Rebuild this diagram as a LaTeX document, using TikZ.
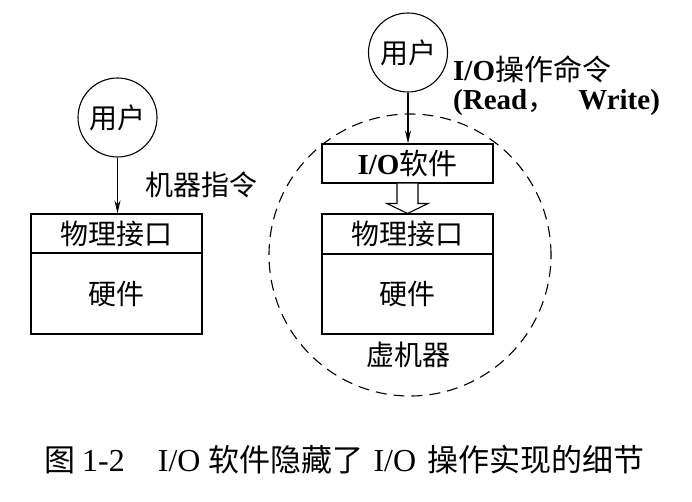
\documentclass[tikz,border=0pt]{standalone}
\usepackage{fontspec}
\setmainfont{Liberation Serif}
\newfontfamily\cjk{Noto Sans CJK SC}
\usetikzlibrary{arrows.meta,calc}
\begin{document}
\begin{tikzpicture}[x=1pt,y=-1pt,
  user/.style={circle,draw,line width=1.1pt,minimum size=79pt,inner sep=0pt,font=\cjk\fontsize{28}{28}\selectfont},
  boxpart/.style={draw,line width=1.1pt,minimum width=171pt,inner sep=0pt,font=\cjk\fontsize{28}{28}\selectfont},
  lbl/.style={inner sep=0pt,font=\cjk\fontsize{28}{28}\selectfont},
  boldlbl/.style={inner sep=0pt,anchor=west,text height=20pt,text depth=5pt,font=\fontsize{29}{29}\selectfont\bfseries},
  arr/.style={line width=1.1pt,-{Stealth[length=13pt,width=6pt]}},
  capcjk/.style={},
]
\useasboundingbox (0,0) rectangle (692,502);

% left: real machine
\node[user] (u1) at (117.5,117.5) {用户};
\node[boxpart,minimum height=39pt] (if1) at (116.5,233.5) {物理接口};
\node[boxpart,minimum height=81pt] (hw1) at (116.5,293.5) {硬件};
\draw[arr] (u1.south) -- (u1.south |- if1.north);
\node[lbl] (mi) at (201,185) {机器指令};

% right: virtual machine
\node[draw,dashed,dash pattern=on 11pt off 7pt,line width=1.1pt,circle,minimum size=282pt,inner sep=0pt] (vm) at (410,255) {};
\node[user] (u2) at (408,52.5) {用户};
\node[boxpart,minimum height=39pt,font=\fontsize{29}{29}\selectfont\bfseries] (io) at (407.5,163.5) {I/O{\cjk\mdseries 软件}};
\node[boxpart,minimum height=40pt] (if2) at (407.5,234) {物理接口};
\node[boxpart,minimum height=80pt] (hw2) at (407.5,294) {硬件};
\draw[arr] (u2.south) -- (u2.south |- io.north);
\draw[line width=1.1pt,line join=miter,fill=white]
  ($(io.south)+(-10.5,0)$) -- ($(io.south)+(-10.5,20)$) -- ($(io.south)+(-20.5,20)$)
  -- (if2.north) -- ($(io.south)+(20.5,20)$) -- ($(io.south)+(10.5,20)$) -- ($(io.south)+(10.5,0)$);
\node[lbl] (vml) at (408,355) {虚机器};
\node[boldlbl] (cmd1) at (453,73) {I/O{\cjk\mdseries 操作命令}};
\node[boldlbl] (cmd2) at (453,102) {(Read{\cjk\mdseries ，}\hspace{22pt}Write)};

% caption
\node[inner sep=0pt,anchor=west,font=\fontsize{32}{32}\selectfont] (cap) at (44,460)
  {{\cjk\fontsize{31}{31}\selectfont 图}\hspace{7pt}1-2\hspace{33pt}I/O\hspace{8pt}{\cjk\fontsize{31}{31}\selectfont 软件隐藏了}\hspace{10pt}I/O\hspace{11pt}{\cjk\fontsize{31}{31}\selectfont 操作实现的细节}};
\end{tikzpicture}
\end{document}
